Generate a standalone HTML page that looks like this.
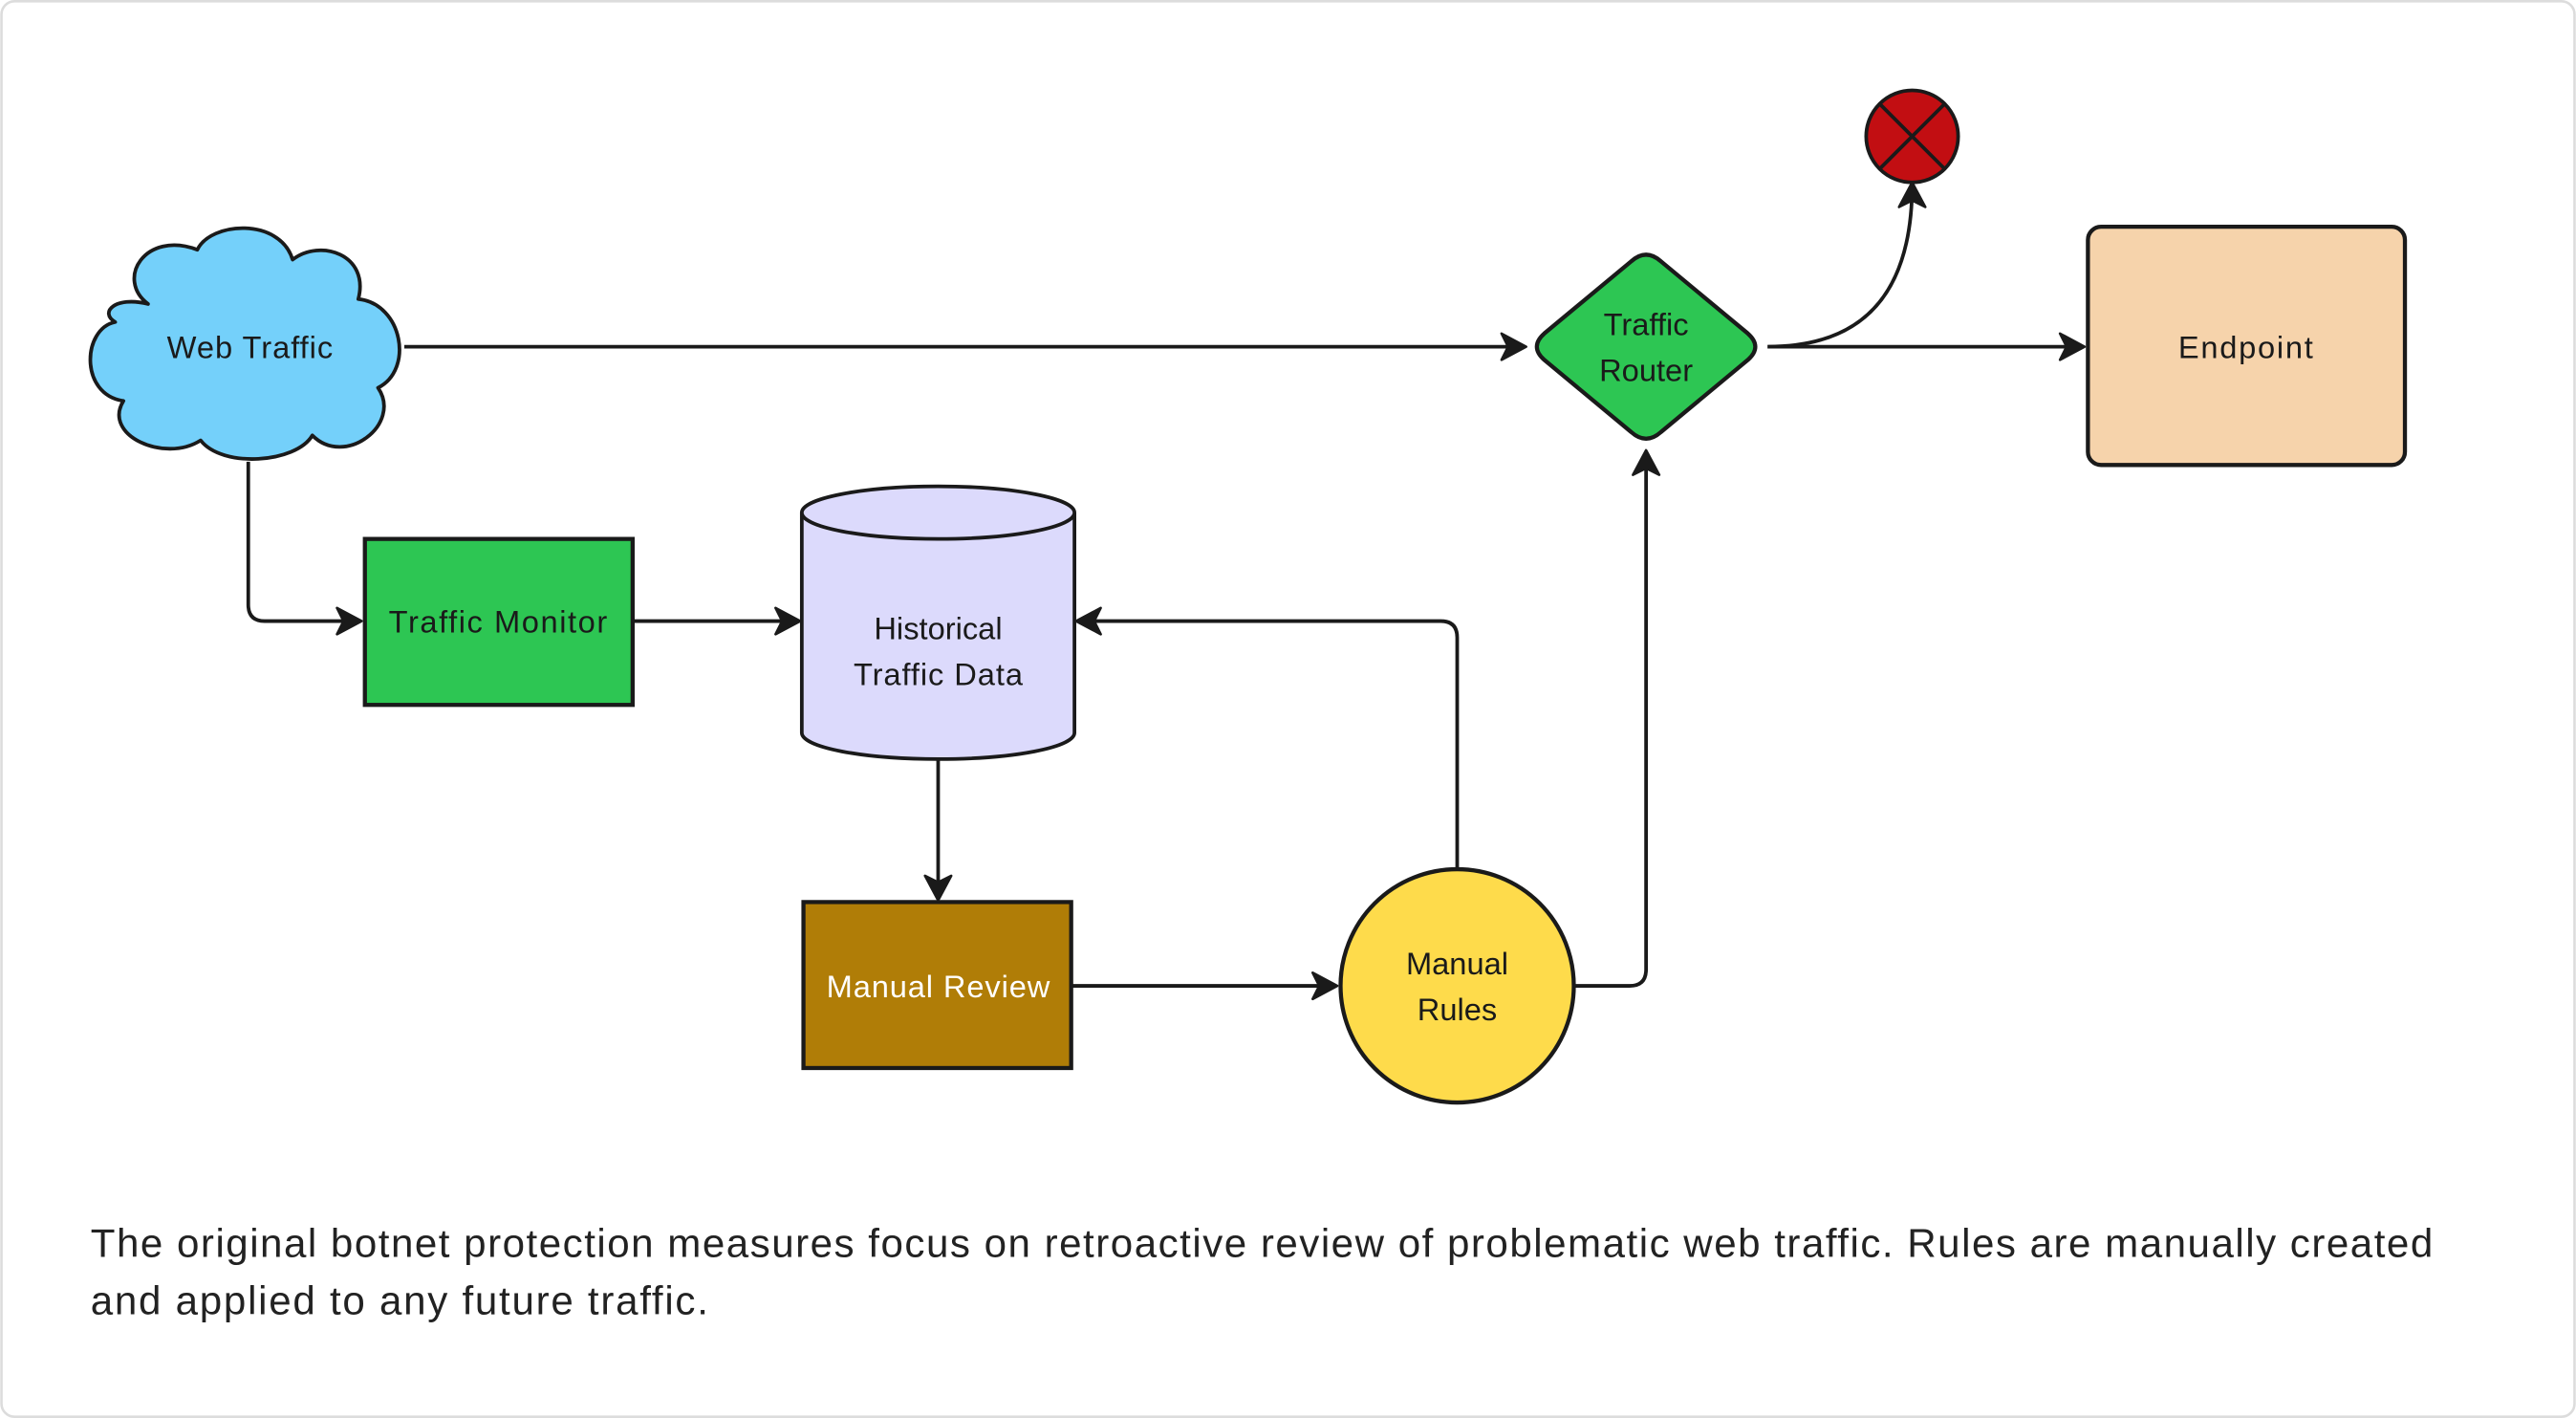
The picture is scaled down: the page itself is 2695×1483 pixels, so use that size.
<!DOCTYPE html>
<html><head><meta charset="utf-8"><style>
html,body{margin:0;padding:0;background:#fff;}
svg{display:block;}
text{font-family:"Liberation Sans",sans-serif;fill:#1a1a1a;}
</style></head><body>
<svg width="2695" height="1483" viewBox="0 0 1568 863" xmlns="http://www.w3.org/2000/svg">
<defs>
<marker id="a" markerWidth="20" markerHeight="20" refX="17" refY="10" orient="auto" markerUnits="userSpaceOnUse">
<path d="M3,2 L18,10 L3,18 L7,10 Z" fill="#1a1a1a" stroke="#1a1a1a" stroke-width="1.5" stroke-linejoin="round"/>
</marker>
</defs>
<rect x="0.75" y="0.75" width="1566.5" height="861.5" rx="8" fill="#fff" stroke="#dcdcdc" stroke-width="1.5"/>
<g fill="none" stroke="#1a1a1a" stroke-width="2.2">
<path d="M246,211 L928,211" marker-end="url(#a)"/>
<path d="M1076,211 L1268,211" marker-end="url(#a)"/>
<path d="M1076,211 C1140,211 1164,172 1164,112" marker-end="url(#a)"/>
<path d="M151,281 L151,368 Q151,378 161,378 L219,378" marker-end="url(#a)"/>
<path d="M386,378 L486,378" marker-end="url(#a)"/>
<path d="M571,462 L571,547" marker-end="url(#a)"/>
<path d="M653,600 L813,600" marker-end="url(#a)"/>
<path d="M887,528 L887,388 Q887,378 877,378 L656,378" marker-end="url(#a)"/>
<path d="M959,600 L992,600 Q1002,600 1002,590 L1002,275" marker-end="url(#a)"/>
</g>
<path d="M90,185 C70,170 88,140 120,152 C128,135 170,132 178,158 C195,145 225,155 218,182 C245,185 252,225 230,236 C245,258 210,285 190,265 C180,282 135,285 122,268 C100,282 62,265 75,244 C48,240 50,200 70,196 C60,190 70,180 90,185 Z" fill="#74d0fa" stroke="#1a1a1a" stroke-width="2.2" stroke-linejoin="round"/>
<text x="152" y="218" font-size="19" text-anchor="middle" textLength="101">Web Traffic</text>
<rect x="222" y="328" width="163" height="101" fill="#2dc653" stroke="#1a1a1a" stroke-width="2.5"/>
<text x="303" y="385" font-size="19" text-anchor="middle" textLength="133">Traffic Monitor</text>
<path d="M488,312 L488,446 A83,16 0 0 0 654,446 L654,312" fill="#dcdafc" stroke="#1a1a1a" stroke-width="2.2"/>
<ellipse cx="571" cy="312" rx="83" ry="16" fill="#dcdafc" stroke="#1a1a1a" stroke-width="2.2"/>
<text x="571" y="389" font-size="19" text-anchor="middle">Historical</text>
<text x="571" y="417" font-size="19" text-anchor="middle" textLength="103">Traffic Data</text>
<rect x="489" y="549" width="163" height="101" fill="#b07d07" stroke="#1a1a1a" stroke-width="2.5"/>
<text x="571" y="607" font-size="19" text-anchor="middle" textLength="136" style="fill:#fff">Manual Review</text>
<circle cx="887" cy="600" r="71" fill="#fedb4b" stroke="#1a1a1a" stroke-width="2.5"/>
<text x="887" y="593" font-size="19" text-anchor="middle">Manual</text>
<text x="887" y="621" font-size="19" text-anchor="middle">Rules</text>
<path d="M993,159 Q1002,151 1011,159 L1064,203 Q1073,211 1064,219 L1011,263 Q1002,271 993,263 L940,219 Q931,211 940,203 Z" fill="#2dc653" stroke="#1a1a1a" stroke-width="2.5" stroke-linejoin="round"/>
<text x="1002" y="204" font-size="19" text-anchor="middle">Traffic</text>
<text x="1002" y="232" font-size="19" text-anchor="middle">Router</text>
<rect x="1271" y="138" width="193" height="145" rx="8" fill="#f6d3ab" stroke="#1a1a1a" stroke-width="2.5"/>
<text x="1367" y="218" font-size="19" text-anchor="middle" textLength="82">Endpoint</text>
<circle cx="1164" cy="83" r="28" fill="#c20e12" stroke="#1a1a1a" stroke-width="2.2"/>
<path d="M1144,63 L1184,103 M1184,63 L1144,103" stroke="#1a1a1a" stroke-width="2.2"/>
<text x="55" y="765" font-size="24.5" textLength="1426" style="fill:#222">The original botnet protection measures focus on retroactive review of problematic web traffic. Rules are manually created</text>
<text x="55" y="800" font-size="24.5" textLength="376" style="fill:#222">and applied to any future traffic.</text>
</svg>
</body></html>
